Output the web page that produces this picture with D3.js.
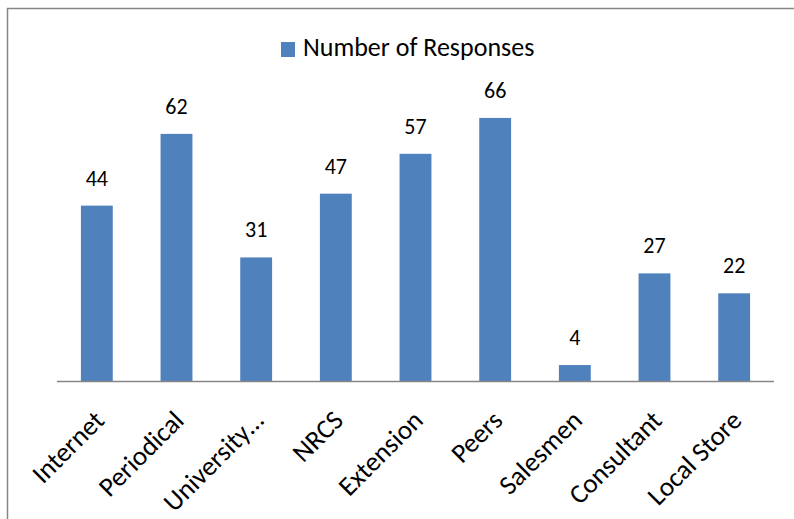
<!DOCTYPE html>
<html>
<head>
<meta charset="utf-8">
<script src="https://cdn.jsdelivr.net/npm/d3@7"></script>
<style>
  html, body { margin: 0; padding: 0; background: #fff; }
  svg { display: block; }
  text { font-family: Carlito, Calibri, Lato, "Open Sans", sans-serif; fill: #000; }
</style>
</head>
<body>
<svg id="chart" width="794" height="519"></svg>
<script>
// Survey: where respondents get their information
const categories = ["Internet", "Periodical", "University\u2026", "NRCS", "Extension", "Peers", "Salesmen", "Consultant", "Local Store"];
const responses = [44, 62, 31, 47, 57, 66, 4, 27, 22];
const seriesName = "Number of Responses";

const svg = d3.select("#chart");
const W = 794, H = 519;
const barColor = "#4f81bd";
const fontStack = "Carlito, Calibri, Lato, 'Open Sans', sans-serif";

// chart frame (open to the right and bottom edges)
svg.append("rect")
  .attr("x", 7.5).attr("y", 8.5)
  .attr("width", W + 20).attr("height", H + 20)
  .attr("fill", "#fff")
  .attr("stroke", "#868686")
  .attr("stroke-width", 1.5);

const plot = { left: 57, right: 774, top: 102, bottom: 381 };

const x = d3.scaleBand()
  .domain(categories)
  .range([plot.left, plot.right])
  .paddingInner(0.6)
  .paddingOuter(0.3);

const y = d3.scaleLinear()
  .domain([0, 70])
  .range([plot.bottom, plot.top]);

// bars
svg.append("g").selectAll("rect")
  .data(responses)
  .join("rect")
  .attr("x", (d, i) => x(categories[i]))
  .attr("y", d => y(d))
  .attr("width", x.bandwidth())
  .attr("height", d => y(0) - y(d))
  .attr("fill", barColor);

// value labels
svg.append("g").selectAll("text")
  .data(responses)
  .join("text")
  .attr("x", (d, i) => x(categories[i]) + x.bandwidth() / 2)
  .attr("y", d => y(d) - 20)
  .attr("text-anchor", "middle")
  .attr("font-size", 22)
  .text(d => d);

// category axis
const xAxis = d3.axisBottom(x).tickSize(0).tickPadding(0);
const gx = svg.append("g")
  .attr("transform", `translate(0,${plot.bottom})`)
  .call(xAxis);
gx.select(".domain")
  .attr("stroke", "#868686")
  .attr("stroke-width", 1.5)
  .attr("d", `M${plot.left},0.5H${plot.right}`);
gx.selectAll(".tick text")
  .attr("font-size", 27)
  .attr("font-family", fontStack)
  .attr("fill", "#000")
  .attr("text-anchor", "end")
  .attr("dy", 0)
  .attr("transform", "translate(9,41) rotate(-45)");

// legend
const legend = svg.append("g").attr("transform", "translate(281,42)");
legend.append("rect")
  .attr("width", 14).attr("height", 15)
  .attr("fill", barColor);
legend.append("text")
  .attr("x", 22).attr("y", 14)
  .attr("font-size", 26)
  .text(seriesName);
</script>
</body>
</html>
